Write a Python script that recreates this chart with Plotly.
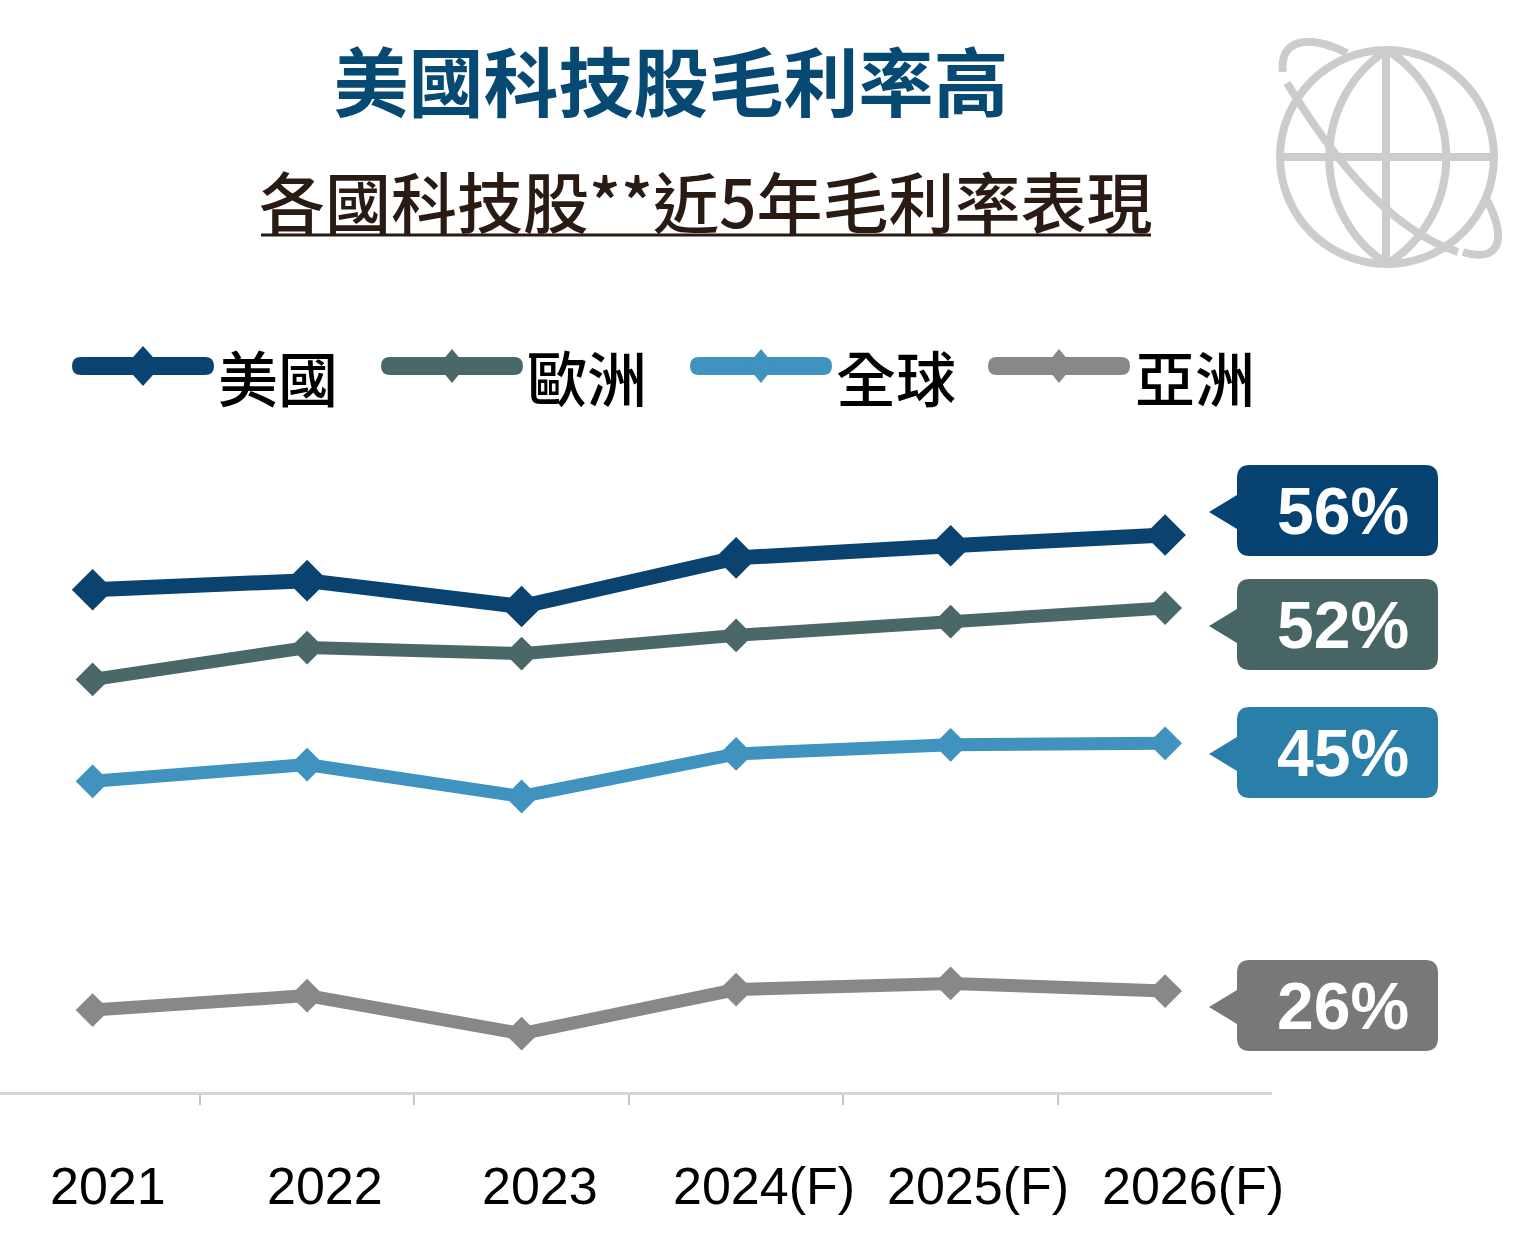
import plotly.graph_objects as go

years = ["2021", "2022", "2023", "2024(F)", "2025(F)", "2026(F)"]
us = [52.4, 53.0, 51.3, 54.5, 55.3, 56.0]
europe = [46.5, 48.6, 48.2, 49.4, 50.3, 51.2]
world = [39.8, 40.9, 38.8, 41.6, 42.2, 42.3]
asia = [24.75, 25.7, 23.2, 26.1, 26.5, 26.0]
names = ["美國", "歐洲", "全球", "亞洲"]
series = [us, europe, world, asia]
line_colors = ["#0A4270", "#4A6868", "#3F93BE", "#888888"]
box_colors = ["#054271", "#486565", "#297FA8", "#787878"]
end_labels = ["56%", "52%", "45%", "26%"]

W, H = 1516, 1252
PL, PB = 1272, 1092   # plot-area right and bottom edges, in page pixels
CJK = "Noto Sans CJK TC"
LATIN = "Liberation Sans"


def X(p):
    return p / PL


def Y(p):
    return 1 - p / PB


def path(*parts):
    out = []
    for cmd, *pts in parts:
        coords = " ".join(f"{X(pts[i]):.5f},{Y(pts[i + 1]):.5f}" for i in range(0, len(pts), 2))
        out.append(f"{cmd} {coords}".strip())
    return " ".join(out)


def pshape(d, fill=None, line=None, width=0):
    s = dict(type="path", xref="paper", yref="paper", path=d, layer="above")
    s["fillcolor"] = fill if fill else "rgba(0,0,0,0)"
    s["line"] = dict(color=line or "rgba(0,0,0,0)", width=width)
    return s


def ann(text, px, py, size, color, family=CJK, bold=False, xanchor="center", weight=None):
    font = dict(size=size, color=color, family=family)
    if weight:
        font["weight"] = weight
    return dict(
        text=f"<b>{text}</b>" if bold else text,
        xref="paper", yref="paper", x=X(px), y=Y(py),
        xanchor=xanchor, yanchor="middle", showarrow=False,
        font=font,
    )


fig = go.Figure()
marker_sizes = [32, 26, 26, 26]
line_widths = [15, 13, 13, 13]
for name, vals, col, ms, lw in zip(names, series, line_colors, marker_sizes, line_widths):
    fig.add_trace(go.Scatter(
        x=years, y=vals, name=name, mode="lines+markers",
        line=dict(color=col, width=lw),
        marker=dict(symbol="diamond", size=ms, color=col),
        showlegend=False, cliponaxis=False,
    ))

shapes, annotations = [], []

# subtitle underline
shapes.append(dict(type="line", xref="paper", yref="paper", x0=X(261), x1=X(1151),
                   y0=Y(235), y1=Y(235), line=dict(color="#2A1A14", width=3)))
annotations.append(ann("各國科技股**近5年毛利率表現", 706, 199, 66, "#2A1A14", weight=500))

# legend
leg_x = [72, 381, 690, 988]
leg_text_x = [278, 587, 896, 1195]
leg_d = [(18, 19), (14, 16), (14, 16), (14, 16)]
for lx, tx, nm, col, (dw, dh) in zip(leg_x, leg_text_x, names, line_colors, leg_d):
    r = 9
    yc = 366
    shapes.append(pshape(path(
        ("M", lx + r, yc - r), ("L", lx + 142 - r, yc - r),
        ("Q", lx + 142, yc - r, lx + 142, yc), ("Q", lx + 142, yc + r, lx + 142 - r, yc + r),
        ("L", lx + r, yc + r), ("Q", lx, yc + r, lx, yc), ("Q", lx, yc - r, lx + r, yc - r), ("Z",),
    ), fill=col))
    cx = lx + 71
    shapes.append(pshape(path(
        ("M", cx - dw, yc), ("L", cx, yc - dh - 1), ("L", cx + dw, yc), ("L", cx, yc + dh + 1), ("Z",),
    ), fill=col))
    annotations.append(ann(nm, tx, 375, 60, "#000000", weight=500))

# end-value callouts
box_tops = [465, 579, 707, 960]
for top, col, lab in zip(box_tops, box_colors, end_labels):
    l, rgt, b, r = 1237, 1438, top + 91, 13
    tip = top + 47
    shapes.append(pshape(path(
        ("M", l + r, top), ("L", rgt - r, top), ("Q", rgt, top, rgt, top + r),
        ("L", rgt, b - r), ("Q", rgt, b, rgt - r, b), ("L", l + r, b),
        ("Q", l, b, l, b - r), ("L", l, tip + 17), ("L", 1209, tip), ("L", l, tip - 17),
        ("L", l, top + r), ("Q", l, top, l + r, top), ("Z",),
    ), fill=col))
    annotations.append(ann(lab, 1343, top + 46, 66, "#FFFFFF", family=LATIN, bold=True))

# x-axis labels, offset from the category centres as in the source
label_x = [108, 325, 540, 764, 978, 1193]
for yr, lx in zip(years, label_x):
    annotations.append(ann(yr, lx, 1186, 52, "#000000", family=LATIN))

# globe icon
G = "#CCCCCC"
gw = 8
cx, cy, R = 1387, 157, 107
k = 0.5523 * R
shapes.append(pshape(path(
    ("M", cx - R, cy), ("C", cx - R, cy - k, cx - k, cy - R, cx, cy - R),
    ("C", cx + k, cy - R, cx + R, cy - k, cx + R, cy),
    ("C", cx + R, cy + k, cx + k, cy + R, cx, cy + R),
    ("C", cx - k, cy + R, cx - R, cy + k, cx - R, cy), ("Z",),
), line=G, width=gw))
shapes.append(pshape(path(("M", 1387, 50), ("C", 1310, 100, 1310, 215, 1387, 264)), line=G, width=gw))
shapes.append(pshape(path(("M", 1387, 50), ("C", 1466, 100, 1466, 215, 1387, 264)), line=G, width=gw))
shapes.append(pshape(path(("M", 1386, 50), ("L", 1386, 264)), line=G, width=gw))
shapes.append(pshape(path(("M", 1280, 157), ("L", 1494, 157)), line=G, width=gw))
shapes.append(pshape(path(("M", 1283, 72), ("C", 1279, 42, 1305, 32, 1347, 53)), line=G, width=gw))
shapes.append(pshape(path(("M", 1287, 83), ("C", 1322, 140, 1382, 228, 1458, 252)), line=G, width=gw))
shapes.append(pshape(path(("M", 1463, 252), ("C", 1495, 262, 1510, 245, 1487, 200)), line=G, width=gw))

fig.update_layout(
    width=W, height=H, autosize=False,
    margin=dict(l=0, t=0, r=W - PL, b=H - PB),
    paper_bgcolor="#FFFFFF", plot_bgcolor="#FFFFFF",
    title=dict(
        text="<b>美國科技股毛利率高</b>", xref="paper", yref="container",
        x=X(671), xanchor="center", y=1 - 85 / H, yanchor="middle",
        font=dict(size=75, color="#064A73", family=CJK),
    ),
    shapes=shapes, annotations=annotations, showlegend=False,
    xaxis=dict(
        type="category", categoryorder="array", categoryarray=years,
        range=[-0.4317, 5.4983], tickson="boundaries", ticks="outside", ticklen=10,
        tickwidth=1.5, tickcolor="#C4C6CE", showticklabels=False, showgrid=False,
        showline=True, linecolor="#D4D6DE", linewidth=3, zeroline=False,
    ),
    yaxis=dict(range=[19.36, 91.2], visible=False, showgrid=False, zeroline=False),
)
fig.write_html("out.html", post_script="document.body.style.margin='0';",
               config={"displayModeBar": False})
